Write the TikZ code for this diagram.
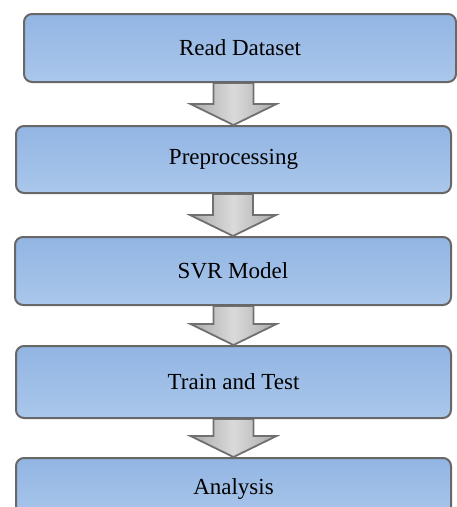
\documentclass[tikz,border=0pt]{standalone}
\usepackage{fontspec}
\setmainfont{Liberation Serif}
\usetikzlibrary{calc}
\definecolor{boxline}{HTML}{686868}
\definecolor{boxtop}{HTML}{92B5E3}
\definecolor{boxbot}{HTML}{AAC7EB}
\definecolor{arrline}{HTML}{707070}
\definecolor{arrside}{HTML}{A9A9A9}
\definecolor{arrmid}{HTML}{DADADA}
\begin{document}
\begin{tikzpicture}[x=1pt,y=-1pt,
  flowbox/.style={draw=boxline, line width=2pt, rounded corners=8pt,
    top color=boxtop, bottom color=boxbot, inner sep=0pt,
    font=\fontsize{23}{27}\selectfont},
  bigarrow/.style={draw=arrline, line width=1.8pt, line join=miter,
    left color=arrside, right color=arrside, middle color=arrmid}]
\clip (0,0) rectangle (457,507);
\fill[white] (0,0) rectangle (457,507);
% boxes
\node[flowbox, minimum width=432pt, minimum height=68pt] (n1) at (240,48) {Read Dataset};
\node[flowbox, minimum width=435pt, minimum height=67pt] (n2) at (233.5,159.5) {Preprocessing};
\node[flowbox, minimum width=436pt, minimum height=68pt] (n3) at (233,271) {SVR Model};
\node[flowbox, minimum width=435pt, minimum height=72pt] (n4) at (233.5,382) {Train and Test};
\node[flowbox, minimum width=435pt, minimum height=62pt] (n5) at (233.5,489) {Analysis};
% arrows
\foreach \a/\b in {n1/n2, n2/n3, n3/n4, n4/n5}{
  \path[bigarrow] let \p1=(\a.south), \p2=(\b.north) in
    (\x2-20pt,\y1) -- (\x2+20pt,\y1) -- (\x2+20pt,\y2+21pt) -- (\x2+43pt,\y2+21pt)
    -- (\x2,\y2) -- (\x2-43pt,\y2+21pt) -- (\x2-20pt,\y2+21pt) -- cycle;
}
% redraw box borders over arrow shafts
\foreach \a in {n1,n2,n3,n4}{
  \draw[boxline, line width=2pt] ($(\a.south west)+(12,-1)$) -- ($(\a.south east)+(-12,-1)$);
}
\end{tikzpicture}
\end{document}
